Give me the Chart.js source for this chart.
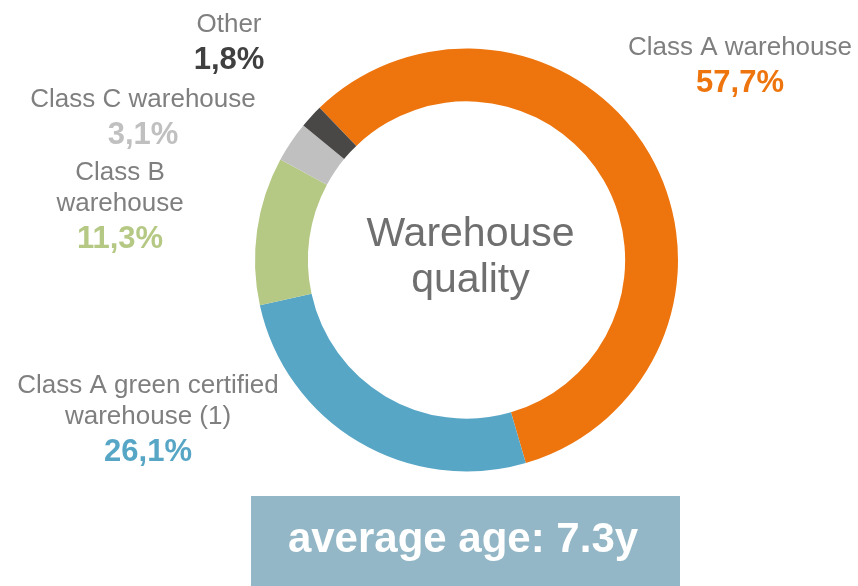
<!DOCTYPE html>
<html>
<head>
<meta charset="utf-8">
<script src="https://cdn.jsdelivr.net/npm/chart.js@4.4.0/dist/chart.umd.min.js"></script>
<style>
  html, body { margin: 0; padding: 0; background: #ffffff; }
  #wrap { position: relative; width: 858px; height: 586px; }
  canvas { display: block; }
</style>
</head>
<body>
<div id="wrap"><canvas id="c" width="858" height="586"></canvas></div>
<script>
// ---- data ----
const categories = ["Class A warehouse", "Class A green certified warehouse (1)", "Class B warehouse", "Class C warehouse", "Other"];
const values = [57.7, 26.1, 11.3, 3.1, 1.8];
const valueLabels = ["57,7%", "26,1%", "11,3%", "3,1%", "1,8%"];
const labelLines = [["Class A warehouse"], ["Class A green certified", "warehouse (1)"], ["Class B", "warehouse"], ["Class C warehouse"], ["Other"]];
const centerTitle = ["Warehouse", "quality"];
const footerText = "average age: 7.3y";

// ---- styling ----
const sliceColors = ["#ee750e", "#57a6c6", "#b5c884", "#c0c0c0", "#4a4846"];
const valueColors = ["#ee750e", "#57a6c6", "#b5c884", "#c0c0c0", "#404040"];
const labelPos = [
  { x: 740, y: 55 },
  { x: 148, y: 393 },
  { x: 120, y: 180 },
  { x: 143, y: 107 },
  { x: 229, y: 32 }
];
const FONT = "'Liberation Sans', Arial, Helvetica, sans-serif";

const textPlugin = {
  id: 'texts',
  afterDraw(chart) {
    const ctx = chart.ctx;
    ctx.save();
    ctx.textAlign = 'center';
    ctx.textBaseline = 'alphabetic';
    // slice labels
    labelLines.forEach((lines, i) => {
      const p = labelPos[i];
      let y = p.y;
      ctx.font = "26px " + FONT;
      ctx.fillStyle = "#7f7f7f";
      lines.forEach((ln, k) => {
        ctx.fillText(ln, p.x, y);
        if (k < lines.length - 1) y += 31;
      });
      y += 37;
      ctx.font = "bold 31px " + FONT;
      ctx.fillStyle = valueColors[i];
      ctx.fillText(valueLabels[i], p.x, y);
    });
    // center title
    const meta = chart.getDatasetMeta(0).data[0];
    const cx = meta.x, cy = meta.y;
    ctx.font = "41px " + FONT;
    ctx.fillStyle = "#6f6f6f";
    ctx.fillText(centerTitle[0], cx + 4, 246);
    ctx.fillText(centerTitle[1], cx + 4, 292);
    // footer box
    ctx.fillStyle = "#93b7c6";
    ctx.fillRect(251, 496, 429, 90);
    ctx.fillStyle = "#ffffff";
    ctx.font = "bold 42px " + FONT;
    ctx.fillText(footerText, 463, 552);
    ctx.restore();
  }
};

new Chart(document.getElementById('c'), {
  type: 'doughnut',
  data: {
    labels: categories,
    datasets: [{
      data: values,
      backgroundColor: sliceColors,
      borderWidth: 0
    }]
  },
  options: {
    responsive: false,
    animation: false,
    rotation: -44,
    cutout: '75%',
    layout: { padding: { left: 255, right: 180, top: 48.5, bottom: 114.5 } },
    plugins: { legend: { display: false }, tooltip: { enabled: false } }
  },
  plugins: [textPlugin]
});
</script>
</body>
</html>
